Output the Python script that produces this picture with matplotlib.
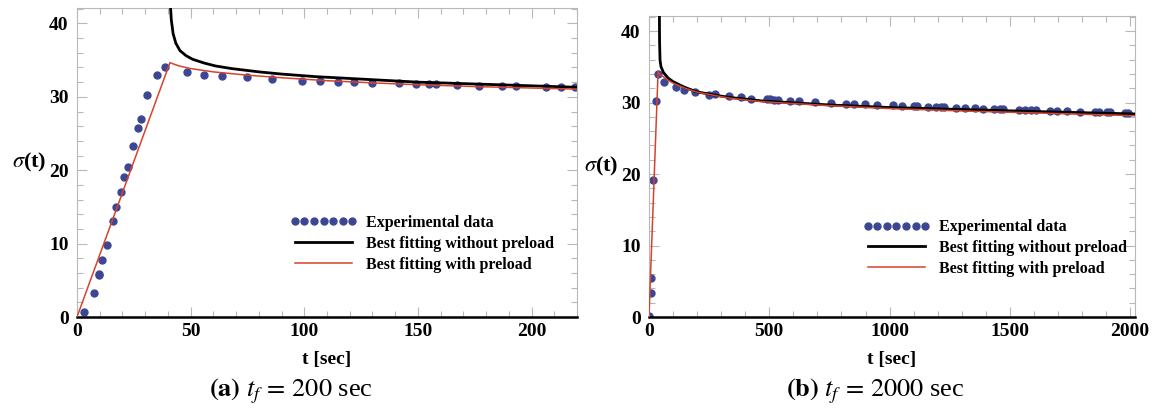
import matplotlib.pyplot as plt
from matplotlib.ticker import MultipleLocator

plt.rcParams['font.family'] = ['Liberation Serif', 'DejaVu Serif']
plt.rcParams['mathtext.fontset'] = 'stix'

# (a) t_f = 200 sec
T_EXP_A = [3.1, 7.3, 9.5, 9.8, 11.1, 13.2, 15.8, 17.3, 19.2, 20.8, 22.3, 24.6,
           27.0, 28.0, 30.8, 35.0, 38.8, 48.6, 56.0, 64.0, 74.8, 85.9, 98.9,
           106.9, 115.0, 122.0, 130.0, 141.8, 149.2, 154.9, 157.8, 167.2,
           177.0, 187.1, 193.0, 206.2, 213.0, 219.3]
S_EXP_A = [0.7, 3.3, 5.7, 5.9, 7.7, 9.8, 13.1, 15.0, 17.0, 19.1, 20.5, 23.3,
           25.7, 27.0, 30.2, 33.0, 34.0, 33.4, 33.0, 32.9, 32.65, 32.4, 32.2,
           32.15, 32.07, 31.97, 31.93, 31.84, 31.75, 31.7, 31.7, 31.6,
           31.5, 31.47, 31.47, 31.4, 31.33, 31.3]

T_NOPRE_A = [40.3, 40.8, 41.5, 42.3, 43.5, 45.3, 48.0, 51.0, 56.0, 61.0, 68.0,
             80.0, 90.0, 105.0, 120.0, 135.0, 150.0, 165.0, 180.0, 200.0, 220.0]
S_NOPRE_A = [50.0, 44.0, 40.5, 38.6, 37.3, 36.3, 35.6, 35.1, 34.6, 34.2, 33.85,
             33.4, 33.1, 32.75, 32.5, 32.25, 32.0, 31.85, 31.7, 31.5, 31.3]

T_PRE_A = [0.0, 40.9, 45.0, 50.0, 60.0, 75.0, 90.0, 110.0, 130.0, 150.0,
           175.0, 200.0, 220.0]
S_PRE_A = [0.0, 34.65, 34.2, 33.85, 33.4, 32.95, 32.6, 32.2, 31.9, 31.65,
           31.4, 31.2, 31.05]

# (b) t_f = 2000 sec
T_EXP_B = [1, 7, 7, 18, 29, 39, 61, 112, 147, 193, 251, 276, 333, 383, 424,
           489, 503, 520, 538, 586, 624, 690, 755, 818, 852, 899, 949, 1013,
           1052, 1102, 1113, 1159, 1193, 1213, 1227, 1278, 1314, 1354, 1390,
           1436, 1457, 1471, 1537, 1561, 1587, 1608, 1665, 1697, 1737, 1792,
           1852, 1872, 1903, 1917, 1979, 1989]
S_EXP_B = [0.1, 3.4, 5.5, 19.2, 30.2, 34.0, 32.8, 32.1, 31.7, 31.5, 31.1,
           31.2, 30.9, 30.7, 30.5, 30.45, 30.45, 30.35, 30.35, 30.2, 30.2,
           30.1, 30.0, 29.85, 29.85, 29.75, 29.6, 29.6, 29.5, 29.5, 29.5, 29.4,
           29.4, 29.4, 29.4, 29.2, 29.2, 29.2, 29.05, 29.1, 29.1, 29.1, 28.95,
           28.95, 28.95, 28.95, 28.8, 28.8, 28.8, 28.7, 28.7, 28.7, 28.65,
           28.65, 28.6, 28.6]

T_NOPRE_B = [42.5, 43.0, 44.0, 46.0, 50.0, 60.0, 80.0, 101.0, 150.0, 198.0,
             270.0, 337.0, 475.0, 630.0, 753.0, 1000.0, 1321.0, 1650.0, 2020.0]
S_NOPRE_B = [50.0, 44.0, 38.5, 35.9, 35.0, 34.2, 33.4, 32.9, 32.1, 31.5,
             31.05, 30.7, 30.2, 29.9, 29.65, 29.3, 29.0, 28.7, 28.4]

T_PRE_B = [0.0, 38.0, 45.0, 60.0, 80.0, 101.0, 150.0, 200.0, 270.0, 337.0,
           475.0, 630.0, 753.0, 1000.0, 1321.0, 1650.0, 2020.0]
S_PRE_B = [0.0, 34.4, 33.9, 33.6, 33.1, 32.7, 32.0, 31.45, 31.0, 30.6,
           30.1, 29.8, 29.55, 29.15, 28.8, 28.5, 28.15]

LABELS = ['Experimental data', 'Best fitting without preload',
          'Best fitting with preload']

BLUE = '#3c4794'
RED = '#d6432c'
GRAY = '#b8b8b8'


def draw_panel(ax, t_exp, s_exp, t_nopre, s_nopre, t_pre, s_pre,
               xmax, xmajor, xminor, legend_at, caption, caption_x):
    ax.plot(t_exp, s_exp, 'o', ls='none', color=BLUE, ms=5,
            label=LABELS[0], zorder=2)
    ax.plot(t_nopre, s_nopre, color='black', lw=2.0, label=LABELS[1], zorder=3)
    ax.plot(t_pre, s_pre, color=RED, lw=1.1, label=LABELS[2], zorder=4)

    ax.set_xlim(0, xmax)
    ax.set_ylim(0, 42.1)
    ax.xaxis.set_major_locator(MultipleLocator(xmajor))
    ax.xaxis.set_minor_locator(MultipleLocator(xminor))
    ax.yaxis.set_major_locator(MultipleLocator(10))
    ax.yaxis.set_minor_locator(MultipleLocator(2))
    ax.tick_params(which='both', direction='in', top=True, right=True,
                   color=GRAY, labelsize=14, width=0.8)
    ax.tick_params(which='major', length=7)
    ax.tick_params(which='minor', length=4)
    ax.tick_params(axis='x', pad=4)
    ax.tick_params(axis='y', pad=6)
    for lab in ax.get_xticklabels() + ax.get_yticklabels():
        lab.set_fontweight('bold')

    for side in ['left', 'top', 'right']:
        ax.spines[side].set_color(GRAY)
        ax.spines[side].set_linewidth(0.8)
    ax.spines['bottom'].set_color('black')
    ax.spines['bottom'].set_linewidth(1.8)

    ax.set_xlabel('t [sec]', fontsize=14, fontweight='bold', labelpad=8)
    ax.set_ylabel(r'$\sigma$(t)', fontsize=16, fontweight='bold',
                  rotation=0, labelpad=14, va='center')

    ax.legend(loc='upper left', bbox_to_anchor=legend_at, frameon=False,
              numpoints=7, handlelength=4.2, handletextpad=0.55,
              borderpad=0, borderaxespad=0, labelspacing=0.3,
              prop={'weight': 'bold', 'size': 11.5})

    ax.figure.text(caption_x, 0.035, caption, fontsize=19, ha='center')


def main():
    fig = plt.figure(figsize=(11.56, 4.11), dpi=100)
    ax_a = fig.add_axes([0.0666, 0.2287, 0.4325, 0.7518])
    ax_b = fig.add_axes([0.5614, 0.2287, 0.4204, 0.7324])

    draw_panel(ax_a, T_EXP_A, S_EXP_A, T_NOPRE_A, S_NOPRE_A, T_PRE_A, S_PRE_A,
               220, 50, 10, (0.426, 0.33),
               r'$\mathbf{(a)}\ t_f\,=\,200$ sec', 0.252)
    draw_panel(ax_b, T_EXP_B, S_EXP_B, T_NOPRE_B, S_NOPRE_B, T_PRE_B, S_PRE_B,
               2020, 500, 100, (0.44, 0.325),
               r'$\mathbf{(b)}\ t_f\,=\,2000$ sec', 0.757)

    fig.savefig('out.png', dpi=100)


if __name__ == '__main__':
    main()
